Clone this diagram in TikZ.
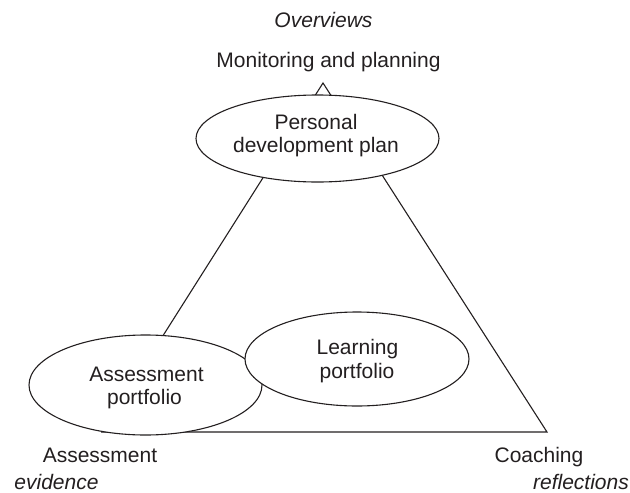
\documentclass[tikz,border=0pt]{standalone}
\usepackage{fontspec}
\setmainfont{Liberation Sans}
\usetikzlibrary{shapes.geometric}
\definecolor{ink}{HTML}{231F20}
\begin{document}
\begin{tikzpicture}[x=1pt,y=-1pt, line width=1.1pt, draw=ink,
  oval/.style={ellipse, draw=ink, fill=white, inner sep=0pt},
  txt/.style={anchor=base, inner sep=0pt, text=ink, font=\fontsize{21}{25}\selectfont},
  itxt/.style={txt, font=\fontsize{21}{25}\selectfont\itshape}]
\useasboundingbox (0,0) rectangle (630,493);
\coordinate (apex) at (323,83);
\coordinate (bl) at (102,432);
\coordinate (br) at (547,432);
\draw[line join=miter] (apex) -- (br) -- (bl) -- cycle;
\node[oval, minimum width=243pt, minimum height=87pt] (pdp) at (317.5,138.5) {};
\node[oval, minimum width=233pt, minimum height=100pt] (ap) at (145.5,385) {};
\node[oval, minimum width=224pt, minimum height=94pt] (lp) at (357,359) {};
\node[itxt] (ov) at (323.5,27) {Overviews};
\node[txt] (mp) at (328.5,67) {Monitoring and planning};
\node[txt] (pdpa) at (316,129) {Personal};
\node[txt] (pdpb) at (316,152) {development plan};
\node[txt] (lpa) at (357.5,354) {Learning};
\node[txt] (lpb) at (357,378) {portfolio};
\node[txt] (apa) at (146.5,381) {Assessment};
\node[txt] (apb) at (144.5,404) {portfolio};
\node[txt] (ass) at (100,462) {Assessment};
\node[itxt] (evi) at (56.5,489) {evidence};
\node[txt] (coa) at (539,462) {Coaching};
\node[itxt] (ref) at (581,489) {reflections};
\end{tikzpicture}
\end{document}
